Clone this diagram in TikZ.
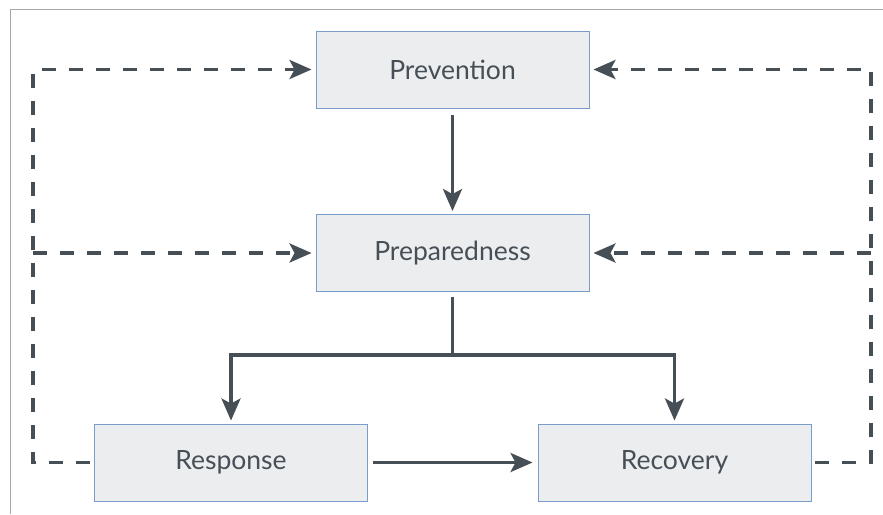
\documentclass[tikz,border=0pt]{standalone}
\usepackage{fontspec}
\setmainfont{Lato}
\usetikzlibrary{arrows.meta}
\definecolor{boxfill}{HTML}{ECEDEF}
\definecolor{boxline}{HTML}{7A9CCB}
\definecolor{ink}{HTML}{474F56}
\definecolor{frame}{HTML}{A3A7AB}
\tikzset{
  phase/.style={draw=boxline, line width=0.9pt, fill=boxfill, minimum width=273pt, minimum height=77pt, inner sep=0pt, text=ink, font=\fontsize{26.5}{30}\selectfont},
  solidarrow/.style={draw=ink, line width=3.5pt, -{Stealth[length=22pt,width=19pt,inset=5pt]}},
  dasharrow/.style={draw=ink, line width=3.5pt, dash pattern=on 14pt off 13pt, -{Stealth[length=22pt,width=19pt,inset=5pt]}},
}
\begin{document}
\begin{tikzpicture}[x=1pt,y=-1pt]
\useasboundingbox (0,0) rectangle (883,514);
\draw[frame, line width=1pt] (10.5,514) -- (10.5,9.5) -- (883,9.5);
\node[phase] (prev) at (452.5,69.5) {Prevention};
\node[phase] (prep) at (452.5,253) {Preparedness};
\node[phase] (resp) at (231,462.5) {Response};
\node[phase] (reco) at (674.5,462.5) {Recovery};
\coordinate (lx) at (33,0);
\coordinate (rx) at (871,0);
\coordinate (bus) at (0,355);
% solid arrows
\draw[solidarrow, shorten <=7pt, shorten >=3pt] (prev.south) -- (prep.north);
\draw[solidarrow, shorten >=3pt] ([yshift=-5pt]prep.south) -- (prep.south |- bus) -| (resp.north);
\draw[solidarrow, shorten >=3pt] (prep.south |- bus) -| (reco.north);
\draw[solidarrow, shorten <=5pt, shorten >=5pt] (resp.east) -- (reco.west);
% left dashed feedback
\draw[dasharrow, shorten <=4pt, shorten >=4pt] (resp.west) -- (resp.west -| lx) -- (prev.west -| lx) -- (prev.west);
\draw[dasharrow, shorten >=4pt] (prep.west -| lx) -- (prep.west);
% right dashed feedback
\draw[dasharrow, shorten <=4pt, shorten >=4pt] (reco.east) -- (reco.east -| rx) -- (prev.east -| rx) -- (prev.east);
\draw[dasharrow, shorten >=4pt] (prep.east -| rx) -- (prep.east);
\end{tikzpicture}
\end{document}
